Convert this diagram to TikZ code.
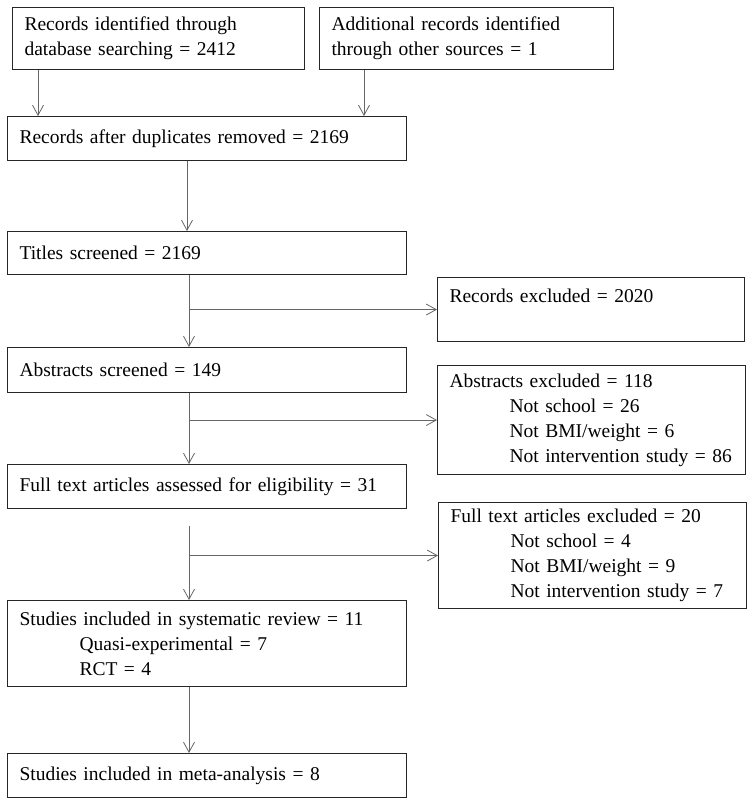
\documentclass[tikz,border=0pt]{standalone}
\usepackage{fontspec}
\setmainfont{Liberation Serif}
\usepackage{tikz}
\usetikzlibrary{calc,arrows.meta}
\newcommand{\Unit}{1pt}
\newcommand{\Indent}{\hspace*{60pt}}
\tikzset{Box/.style={
    anchor=north west,
    inner xsep=12pt,
    inner ysep=0pt,
    draw=black!85,
    line width=1.1pt,
    align=left,
    font=\fontsize{19.5}{25}\selectfont,
    }
}

\begin{document}
\begin{tikzpicture}[x=\Unit, y=\Unit,
    link/.style={draw=black!60, line width=0.8pt,
    -{Straight Barb[length=10pt,width=11pt,line width=0.8pt]}},
]
\useasboundingbox (0,0) rectangle (754,-805);
% left column
\node [Box, text width=268pt, minimum height=62pt] (ident) at (12,-7)
  {Records identified through\\database searching = 2412};
\node [Box, text width=270pt, minimum height=62pt] (other) at (319,-7)
  {Additional records identified\\through other sources = 1};
\node [Box, text width=375pt, minimum height=44pt] (dupl) at (7,-116)
  {Records after duplicates removed = 2169};
\node [Box, text width=375pt, minimum height=43pt] (titles) at (7,-231)
  {Titles screened = 2169};
\node [Box, text width=375pt, minimum height=45pt] (abstr) at (7,-347)
  {Abstracts screened = 149};
\node [Box, text width=375pt, minimum height=44pt] (full) at (7,-464)
  {Full text articles assessed for eligibility = 31};
\node [Box, text width=375pt, minimum height=86pt] (review) at (7,-600)
  {Studies included in systematic review = 11\\
   \Indent Quasi-experimental = 7\\
   \Indent RCT = 4};
\node [Box, text width=375pt, minimum height=44pt] (meta) at (7,-753)
  {Studies included in meta-analysis = 8};
% exclusions
\node [Box, text width=283pt, minimum height=64pt, text depth=27pt] (exrec) at (437,-277)
  {Records excluded = 2020};
\node [Box, text width=284pt, minimum height=109pt] (exabs) at (437,-365)
  {Abstracts excluded = 118\\
   \Indent Not school = 26\\
   \Indent Not BMI/weight = 6\\
   \Indent Not intervention study = 86};
\node [Box, text width=284pt, minimum height=106pt] (exfull) at (438,-502)
  {Full text articles excluded = 20\\
   \Indent Not school = 4\\
   \Indent Not BMI/weight = 9\\
   \Indent Not intervention study = 7};

\draw [link] ([xshift=26pt]ident.south west) -- ([xshift=26pt]ident.south west |- dupl.north);
\draw [link] ([xshift=45pt]other.south west) -- ([xshift=45pt]other.south west |- dupl.north);
\draw [link] ([xshift=180pt]dupl.south west) -- ([xshift=180pt]dupl.south west |- titles.north);

\coordinate (j1) at ([xshift=182pt]titles.south west |- exrec.west);
\draw [link] ([xshift=182pt]titles.south west) -- ([xshift=182pt]titles.south west |- abstr.north);
\draw [link] (j1) -- (exrec.west);

\coordinate (j2) at ([xshift=182pt]abstr.south west |- exabs.west);
\draw [link] ([xshift=182pt]abstr.south west) -- ([xshift=182pt]abstr.south west |- full.north);
\draw [link] (j2) -- (exabs.west);

\coordinate (j3) at ([xshift=182pt]full.south west |- exfull.west);
\draw [link, shorten <=17pt] ([xshift=182pt]full.south west) -- ([xshift=182pt]full.south west |- review.north);
\draw [link] (j3) -- (exfull.west);

\draw [link] ([xshift=182pt]review.south west) -- ([xshift=182pt]review.south west |- meta.north);
\end{tikzpicture}
\end{document}
